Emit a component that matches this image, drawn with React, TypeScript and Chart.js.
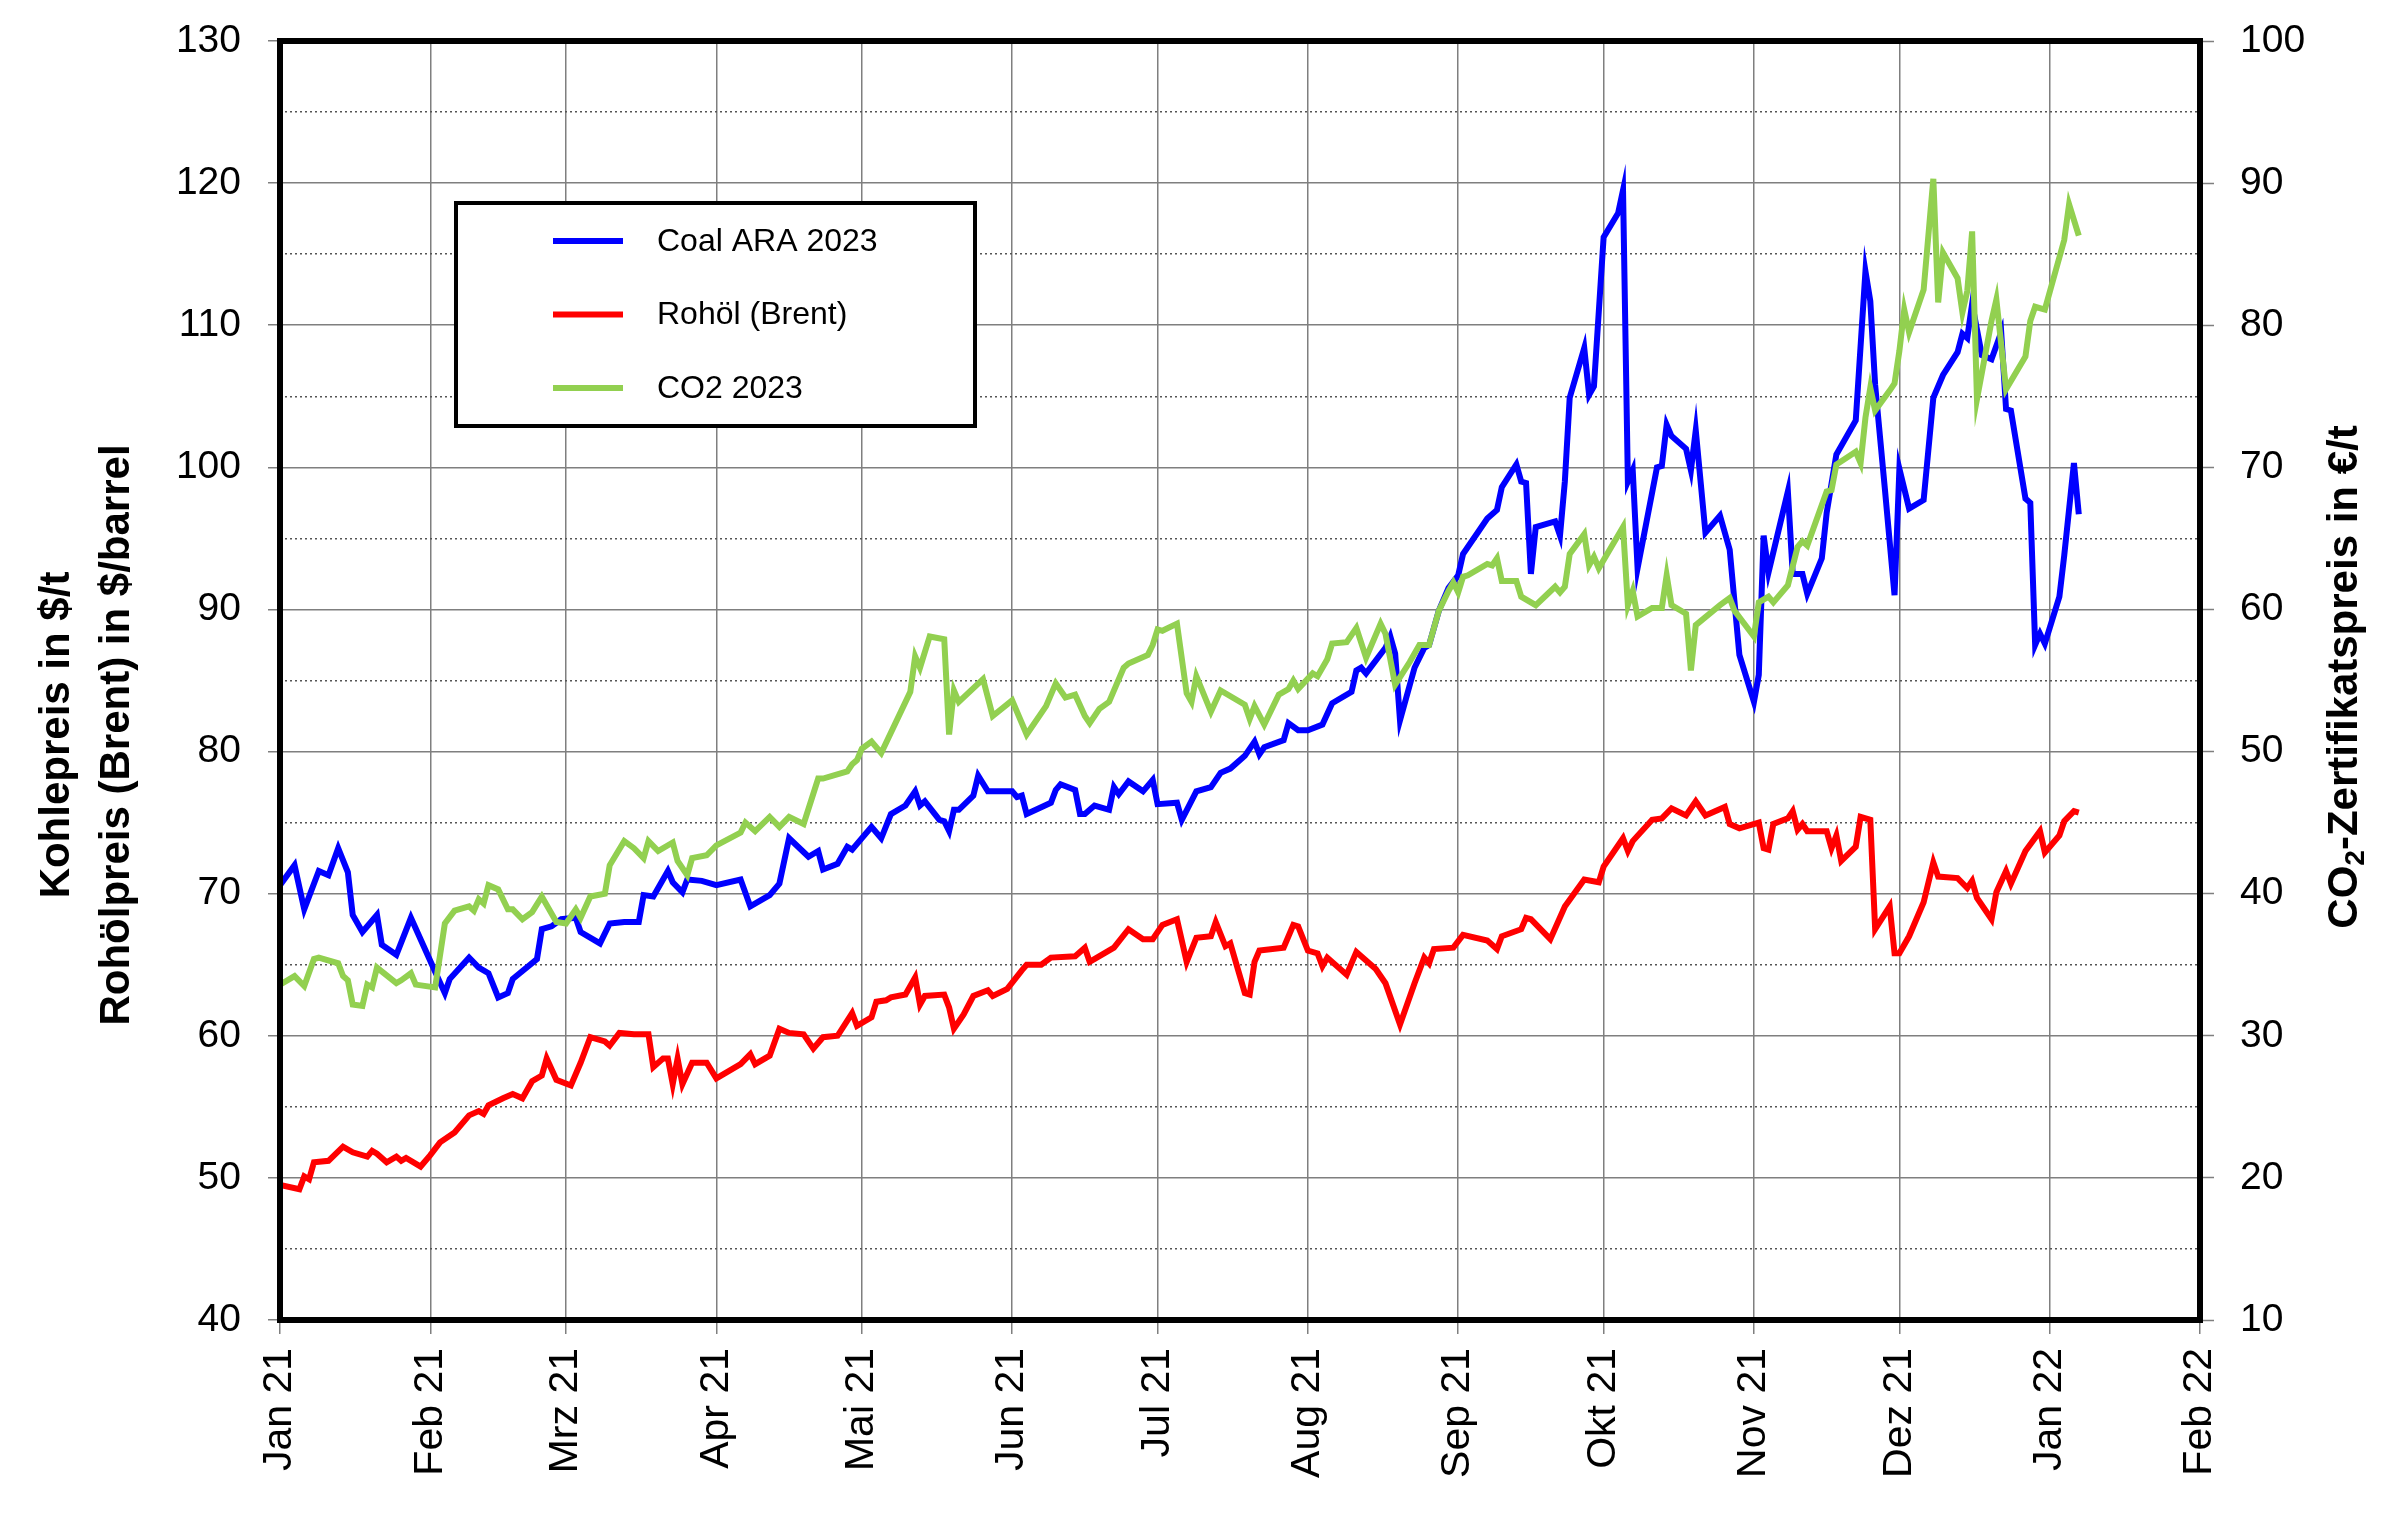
import React, { useEffect, useRef } from 'react';
import { Chart, registerables } from 'chart.js';

Chart.register(...registerables);

const FONT = "'Liberation Sans', Arial, sans-serif";

// x axis: days since 1 Jan 2021, month starts
const monthTicks = [0, 31, 59, 90, 120, 151, 181, 212, 243, 273, 304, 334, 365, 396];
const monthLabels = ['Jan 21', 'Feb 21', 'Mrz 21', 'Apr 21', 'Mai 21', 'Jun 21', 'Jul 21', 'Aug 21', 'Sep 21', 'Okt 21', 'Nov 21', 'Dez 21', 'Jan 22', 'Feb 22'];

const seriesLabels = ['Coal ARA 2023', 'Rohöl (Brent)', 'CO2 2023'];

// Coal ARA 2023 ($/t, left axis)
const coalDays = [0, 3, 5, 8, 10, 12, 14, 15, 17, 20, 21, 24, 27, 32, 34, 35, 39, 41, 43, 45, 47, 48, 53, 54, 56, 58, 61, 62, 66, 68, 71, 74, 75, 77, 80, 81, 83, 84, 87, 90, 95, 97, 101, 103, 105, 109, 111, 112, 115, 117, 118, 122, 124, 126, 129, 131, 132, 133, 136, 137, 138, 139, 140, 143, 144, 146, 151, 152, 153, 154, 159, 160, 161, 164, 165, 166, 168, 171, 172, 173, 175, 178, 180, 181, 185, 186, 189, 192, 194, 196, 199, 201, 202, 203, 207, 208, 210, 212, 215, 217, 221, 222, 223, 224, 228, 229, 230, 231, 234, 236, 237, 239, 241, 243, 244, 247, 249, 251, 252, 255, 256, 257, 258, 259, 263, 264, 265, 266, 269, 270, 271, 273, 276, 277, 278, 279, 280, 284, 285, 286, 287, 290, 291, 292, 294, 297, 299, 301, 304, 305, 306, 307, 311, 312, 314, 315, 318, 319, 321, 325, 327, 328, 329, 331, 333, 334, 336, 339, 341, 343, 346, 347, 348, 349, 351, 353, 355, 356, 357, 360, 361, 362, 363, 364, 367, 368, 370, 371];
const coalValues = [70.6, 72.0, 68.9, 71.6, 71.3, 73.2, 71.5, 68.5, 67.3, 68.5, 66.4, 65.7, 68.3, 64.5, 63.0, 64.0, 65.5, 64.8, 64.4, 62.7, 63.0, 64.0, 65.4, 67.5, 67.7, 68.2, 68.3, 67.3, 66.5, 67.9, 68.0, 68.0, 69.9, 69.8, 71.6, 70.8, 70.1, 71.0, 70.9, 70.6, 71.0, 69.1, 69.9, 70.7, 73.9, 72.6, 73.0, 71.7, 72.1, 73.3, 73.1, 74.7, 73.9, 75.6, 76.2, 77.2, 76.2, 76.5, 75.2, 75.1, 74.4, 75.9, 75.9, 76.9, 78.3, 77.2, 77.2, 76.8, 76.9, 75.6, 76.4, 77.3, 77.7, 77.3, 75.6, 75.6, 76.2, 75.9, 77.5, 77.0, 77.9, 77.2, 78.0, 76.3, 76.4, 75.2, 77.2, 77.5, 78.5, 78.8, 79.7, 80.7, 79.8, 80.3, 80.8, 82.0, 81.5, 81.5, 81.9, 83.4, 84.2, 85.7, 85.9, 85.5, 87.3, 88.1, 86.9, 82.2, 85.9, 87.3, 87.5, 89.9, 91.5, 92.4, 93.9, 95.4, 96.4, 97.0, 98.6, 100.2, 99.0, 98.9, 92.5, 95.8, 96.2, 95.2, 99.0, 104.9, 108.4, 105.1, 105.7, 116.2, 117.9, 119.5, 99.0, 99.8, 92.9, 100.0, 100.1, 103.0, 102.2, 101.3, 99.8, 102.6, 95.4, 96.6, 94.2, 86.8, 83.5, 85.4, 95.2, 92.6, 98.3, 92.5, 92.5, 91.1, 93.6, 96.8, 100.9, 103.3, 113.8, 111.7, 105.8, 98.5, 91.0, 99.9, 97.1, 97.7, 104.9, 106.5, 108.1, 109.4, 109.1, 111.5, 107.9, 107.6, 109.5, 104.1, 104.0, 97.8, 97.5, 87.5, 88.3, 87.6, 90.9, 93.8, 100.3, 96.7];

// Rohöl (Brent) ($/barrel, left axis)
const brentDays = [0, 4, 5, 6, 7, 10, 13, 15, 18, 19, 20, 22, 24, 25, 26, 29, 31, 33, 36, 39, 41, 42, 43, 46, 48, 50, 52, 54, 55, 57, 60, 62, 64, 67, 68, 70, 73, 76, 77, 79, 80, 81, 82, 83, 85, 88, 90, 95, 97, 98, 101, 103, 105, 108, 110, 112, 115, 118, 119, 122, 123, 125, 126, 129, 131, 132, 133, 137, 138, 139, 141, 143, 146, 147, 150, 153, 154, 157, 159, 164, 166, 167, 172, 175, 178, 180, 182, 185, 187, 189, 192, 193, 195, 196, 199, 200, 201, 202, 207, 209, 210, 212, 214, 215, 216, 220, 222, 226, 228, 231, 234, 236, 237, 238, 242, 244, 249, 251, 252, 256, 257, 258, 262, 265, 269, 272, 273, 277, 278, 279, 283, 285, 287, 290, 292, 294, 298, 299, 301, 305, 306, 307, 308, 311, 312, 313, 314, 315, 319, 320, 321, 322, 325, 326, 328, 329, 332, 333, 334, 336, 339, 341, 342, 346, 348, 349, 350, 353, 354, 356, 357, 360, 363, 364, 367, 368, 370, 371];
const brentValues = [49.5, 49.2, 50.1, 49.9, 51.1, 51.2, 52.2, 51.8, 51.5, 51.9, 51.7, 51.1, 51.5, 51.2, 51.4, 50.8, 51.6, 52.5, 53.2, 54.4, 54.7, 54.5, 55.1, 55.6, 55.9, 55.6, 56.8, 57.2, 58.4, 56.9, 56.5, 58.1, 59.9, 59.6, 59.3, 60.2, 60.1, 60.1, 57.8, 58.4, 58.4, 56.6, 58.4, 56.6, 58.1, 58.1, 57.0, 58.0, 58.7, 58.0, 58.6, 60.5, 60.2, 60.1, 59.1, 59.9, 60.0, 61.6, 60.7, 61.3, 62.4, 62.5, 62.7, 62.9, 64.1, 62.2, 62.8, 62.9, 62.0, 60.5, 61.5, 62.8, 63.2, 62.8, 63.3, 64.6, 65.0, 65.0, 65.5, 65.6, 66.2, 65.2, 66.2, 67.5, 66.8, 66.8, 67.8, 68.2, 65.2, 66.9, 67.0, 68.0, 66.3, 66.5, 63.0, 62.9, 65.2, 66.0, 66.2, 67.8, 67.7, 66.0, 65.8, 64.9, 65.5, 64.3, 65.9, 64.7, 63.7, 60.8, 63.7, 65.5, 65.1, 66.1, 66.2, 67.1, 66.7, 66.1, 67.0, 67.5, 68.3, 68.2, 66.8, 69.1, 71.0, 70.8, 71.9, 73.9, 73.0, 73.7, 75.2, 75.3, 76.0, 75.5, 76.5, 75.5, 76.1, 74.9, 74.6, 75.0, 73.2, 73.1, 74.9, 75.3, 75.8, 74.5, 74.9, 74.4, 74.4, 73.2, 74.1, 72.3, 73.3, 75.4, 75.2, 67.5, 69.1, 65.8, 65.8, 67.0, 69.4, 72.2, 71.2, 71.1, 70.4, 70.9, 69.7, 68.2, 70.1, 71.6, 70.7, 73.0, 74.4, 72.9, 74.1, 75.1, 75.8, 75.7];

// CO2 2023 (€/t, right axis)
const co2Days = [0, 3, 5, 7, 8, 12, 13, 14, 15, 17, 18, 19, 20, 24, 25, 27, 28, 32, 34, 36, 39, 40, 41, 42, 43, 45, 47, 48, 50, 52, 54, 57, 59, 61, 62, 64, 67, 68, 71, 73, 75, 76, 78, 81, 82, 84, 85, 88, 90, 95, 96, 98, 101, 103, 105, 108, 111, 112, 117, 118, 119, 120, 122, 124, 130, 131, 132, 134, 137, 138, 139, 140, 145, 147, 151, 154, 158, 160, 162, 164, 166, 167, 169, 171, 174, 175, 179, 180, 181, 182, 185, 187, 188, 189, 192, 194, 199, 200, 201, 203, 206, 208, 209, 210, 213, 214, 216, 217, 220, 222, 224, 227, 228, 230, 233, 235, 237, 239, 241, 242, 243, 244, 245, 249, 250, 251, 252, 255, 256, 259, 263, 264, 265, 266, 269, 270, 271, 272, 277, 278, 279, 280, 283, 285, 286, 287, 290, 291, 292, 297, 299, 300, 304, 305, 307, 308, 311, 313, 314, 315, 319, 320, 321, 325, 326, 327, 328, 329, 332, 333, 334, 335, 336, 339, 341, 342, 343, 346, 347, 348, 349, 350, 353, 354, 356, 360, 361, 362, 364, 368, 369, 371];
const co2Values = [33.6, 34.2, 33.5, 35.4, 35.5, 35.1, 34.2, 33.9, 32.2, 32.1, 33.6, 33.4, 34.8, 33.7, 33.9, 34.4, 33.6, 33.4, 37.9, 38.8, 39.1, 38.8, 39.6, 39.3, 40.6, 40.3, 38.9, 38.9, 38.2, 38.7, 39.8, 38.0, 37.9, 38.9, 38.3, 39.8, 40.0, 42.0, 43.7, 43.2, 42.5, 43.7, 43.0, 43.6, 42.3, 41.3, 42.5, 42.7, 43.4, 44.3, 45.0, 44.4, 45.4, 44.7, 45.4, 44.9, 48.1, 48.1, 48.6, 49.1, 49.4, 50.2, 50.7, 49.9, 54.2, 56.7, 55.9, 58.1, 57.9, 51.2, 54.3, 53.5, 55.1, 52.5, 53.6, 51.2, 53.2, 54.8, 53.8, 54.0, 52.5, 52.0, 53.0, 53.5, 55.9, 56.2, 56.8, 57.5, 58.6, 58.5, 59.0, 54.1, 53.5, 55.3, 52.8, 54.3, 53.3, 52.3, 53.2, 51.9, 54.0, 54.4, 55.0, 54.4, 55.5, 55.3, 56.5, 57.6, 57.7, 58.7, 56.6, 59.0, 58.3, 54.7, 56.3, 57.5, 57.5, 59.9, 61.3, 61.9, 61.2, 62.3, 62.4, 63.2, 63.1, 63.6, 62.0, 62.0, 60.9, 60.3, 61.6, 61.2, 61.6, 63.9, 65.3, 63.1, 63.7, 62.9, 65.8, 60.3, 61.3, 59.5, 60.1, 60.1, 62.4, 60.3, 59.7, 55.7, 58.9, 60.3, 60.8, 59.9, 58.1, 60.5, 60.9, 60.5, 61.7, 64.4, 64.8, 64.5, 68.3, 68.4, 70.2, 71.1, 70.3, 73.5, 75.6, 74.0, 75.4, 75.9, 78.2, 81.1, 79.5, 82.5, 90.3, 81.6, 85.1, 83.3, 80.9, 82.4, 86.6, 74.8, 80.3, 81.8, 75.5, 77.8, 80.3, 81.3, 81.1, 86.0, 88.5, 86.3];

const toPoints = (days: number[], values: number[]) => days.map((d, i) => ({ x: d, y: values[i] }));

const decorPlugin = {
  id: 'decor',
  afterDraw(chart: any) {
    const { ctx, chartArea: a } = chart;
    ctx.save();
    // plot frame
    ctx.lineWidth = 6;
    ctx.strokeStyle = '#000';
    ctx.strokeRect(a.left, a.top, a.right - a.left, a.bottom - a.top);

    // legend box
    const lx = a.left + 176;
    const ly = a.top + 162;
    const lw = 519;
    const lh = 223;
    ctx.fillStyle = '#fff';
    ctx.fillRect(lx, ly, lw, lh);
    ctx.lineWidth = 4;
    ctx.strokeStyle = '#000';
    ctx.strokeRect(lx, ly, lw, lh);
    chart.data.datasets.forEach((ds: any, i: number) => {
      const y = ly + 38 + i * 73.5;
      ctx.strokeStyle = ds.borderColor;
      ctx.lineWidth = 6;
      ctx.beginPath();
      ctx.moveTo(lx + 97, y);
      ctx.lineTo(lx + 167, y);
      ctx.stroke();
      ctx.fillStyle = '#000';
      ctx.font = `32px ${FONT}`;
      ctx.textAlign = 'left';
      ctx.textBaseline = 'middle';
      ctx.fillText(ds.label, lx + 201, y + 1);
    });

    // left axis titles
    ctx.fillStyle = '#000';
    ctx.font = `bold 42px ${FONT}`;
    ctx.textAlign = 'center';
    ctx.textBaseline = 'middle';
    const leftTitles = ['Kohlepreis in $/t', 'Rohölpreis (Brent) in $/barrel'];
    leftTitles.forEach((t, i) => {
      ctx.save();
      ctx.translate(57 + i * 60, 735);
      ctx.rotate(-Math.PI / 2);
      ctx.fillText(t, 0, 0);
      ctx.restore();
    });

    // right axis title with subscript
    ctx.save();
    ctx.translate(2345, 677);
    ctx.rotate(-Math.PI / 2);
    const big = `bold 42px ${FONT}`;
    const small = `bold 28px ${FONT}`;
    const p1 = 'CO';
    const p2 = '2';
    const p3 = '-Zertifikatspreis in €/t';
    ctx.font = big;
    const w1 = ctx.measureText(p1).width;
    const w3 = ctx.measureText(p3).width;
    ctx.font = small;
    const w2 = ctx.measureText(p2).width;
    let sx = -(w1 + w2 + w3) / 2;
    ctx.textAlign = 'left';
    ctx.font = big;
    ctx.fillText(p1, sx, 0);
    sx += w1;
    ctx.font = small;
    ctx.fillText(p2, sx, 11);
    sx += w2;
    ctx.font = big;
    ctx.fillText(p3, sx, 0);
    ctx.restore();

    ctx.restore();
  },
};

export default function App() {
  const canvasRef = useRef<HTMLCanvasElement | null>(null);

  useEffect(() => {
    document.body.style.margin = '0';
    const canvas = canvasRef.current;
    if (!canvas) return;
    const chart = new Chart(canvas, {
      type: 'line',
      data: {
        datasets: [
          {
            label: seriesLabels[0],
            data: toPoints(coalDays, coalValues),
            borderColor: '#0000FF',
            backgroundColor: '#0000FF',
            borderWidth: 6,
            pointRadius: 0,
            tension: 0,
            yAxisID: 'y',
            order: 3,
          },
          {
            label: seriesLabels[1],
            data: toPoints(brentDays, brentValues),
            borderColor: '#FF0000',
            backgroundColor: '#FF0000',
            borderWidth: 6,
            pointRadius: 0,
            tension: 0,
            yAxisID: 'y',
            order: 2,
          },
          {
            label: seriesLabels[2],
            data: toPoints(co2Days, co2Values),
            borderColor: '#92D050',
            backgroundColor: '#92D050',
            borderWidth: 6,
            pointRadius: 0,
            tension: 0,
            yAxisID: 'y2',
            order: 1,
          },
        ],
      },
      options: {
        responsive: false,
        animation: false,
        devicePixelRatio: 1,
        layout: { autoPadding: false, padding: { top: 41, left: 0, right: 0, bottom: 0 } },
        plugins: {
          legend: { display: false },
          tooltip: { enabled: false },
        },
        scales: {
          x: {
            type: 'linear',
            position: 'bottom',
            min: 0,
            max: 396,
            afterBuildTicks: (s: any) => {
              s.ticks = monthTicks.map((v) => ({ value: v }));
            },
            afterFit: (s: any) => {
              s.height = 218;
            },
            ticks: {
              autoSkip: false,
              maxRotation: 90,
              minRotation: 90,
              padding: 14,
              color: '#000',
              font: { family: FONT, size: 41 },
              callback: (_v: any, i: number) => monthLabels[i],
            },
            grid: {
              color: '#7f7f7f',
              lineWidth: 1.5,
              tickLength: 14,
              tickColor: '#7f7f7f',
              tickWidth: 1.5,
            },
            border: { display: false },
          },
          y: {
            type: 'linear',
            position: 'left',
            min: 40,
            max: 130,
            afterFit: (s: any) => {
              s.width = 280;
              s.paddingTop = 0;
              s.paddingBottom = 0;
            },
            ticks: {
              stepSize: 5,
              padding: 27,
              color: '#000',
              font: { family: FONT, size: 39 },
              callback: (v: any) => (Number(v) % 10 === 0 ? String(v) : ''),
            },
            grid: {
              color: (c: any) => (c.tick && c.tick.value % 10 !== 0 ? '#555' : '#7f7f7f'),
              lineWidth: 1.5,
              tickLength: 12,
              tickWidth: 1.5,
              tickColor: (c: any) => (c.tick && c.tick.value % 10 !== 0 ? 'rgba(0,0,0,0)' : '#7f7f7f'),
            },
            border: {
              display: false,
              dash: (c: any) => (c.tick && c.tick.value % 10 !== 0 ? [2, 3] : []),
            },
          },
          y2: {
            type: 'linear',
            position: 'right',
            min: 10,
            max: 100,
            afterFit: (s: any) => {
              s.width = 200;
              s.paddingTop = 0;
              s.paddingBottom = 0;
            },
            ticks: {
              stepSize: 10,
              padding: 26,
              color: '#000',
              font: { family: FONT, size: 39 },
            },
            grid: {
              drawOnChartArea: false,
              tickLength: 14,
              tickWidth: 1.5,
              tickColor: '#7f7f7f',
            },
            border: { display: false },
          },
        },
      },
      plugins: [decorPlugin],
    } as any);
    return () => chart.destroy();
  }, []);

  return (
    <div style={{ width: 2400, height: 1538, background: '#fff' }}>
      <canvas ref={canvasRef} width={2400} height={1538} style={{ display: 'block' }} />
    </div>
  );
}
